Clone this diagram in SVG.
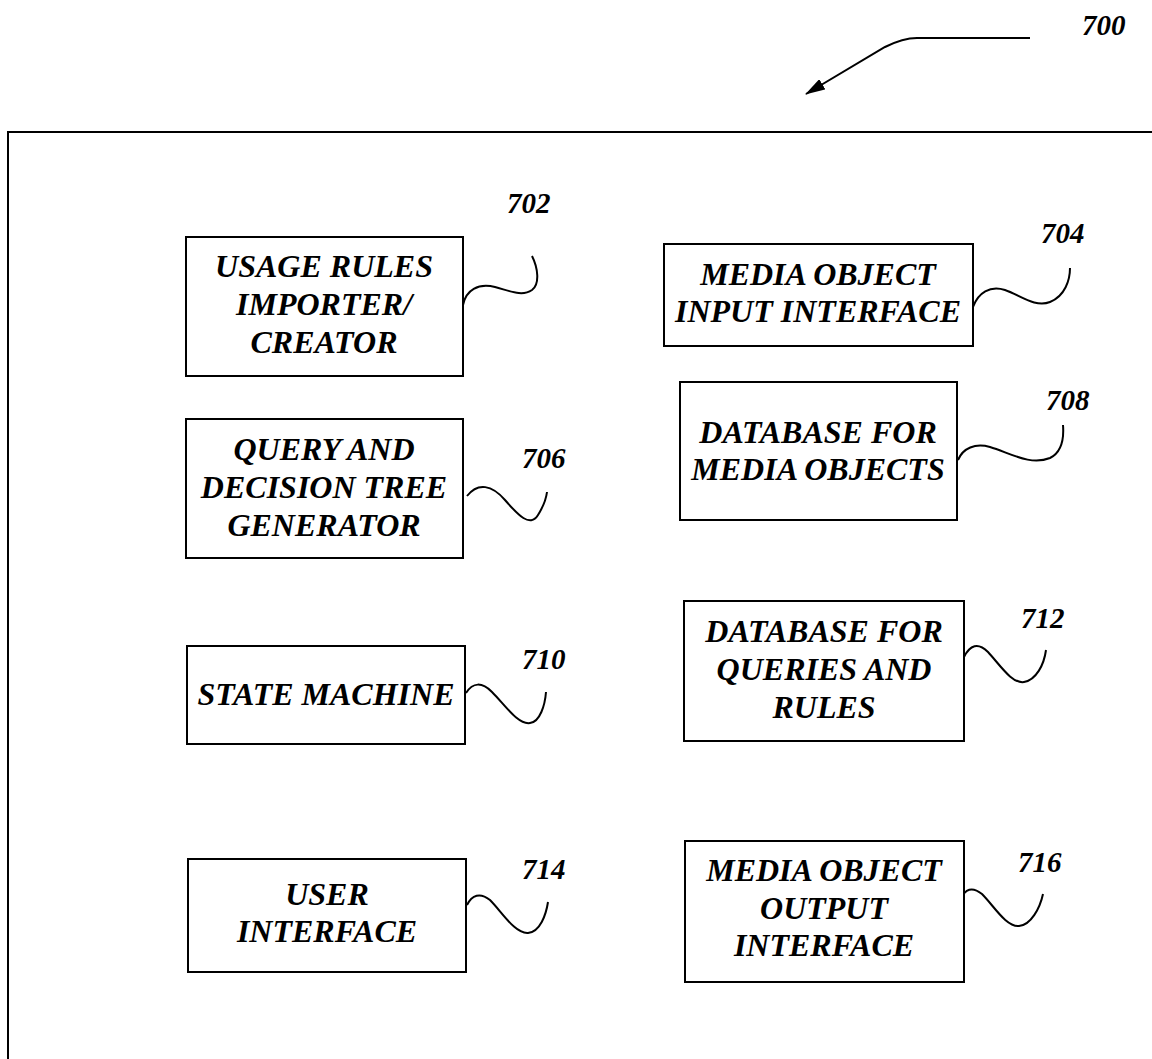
<svg xmlns="http://www.w3.org/2000/svg" width="1152" height="1059" viewBox="0 0 1152 1059">
<style>
.box{fill:#fff;stroke:#000;stroke-width:2}
.t{font-family:"Liberation Serif",serif;font-weight:bold;font-style:italic;font-size:32px;text-anchor:middle;fill:#000}
.lbl{font-family:"Liberation Serif",serif;font-weight:bold;font-style:italic;font-size:29px;fill:#000}
.lead{fill:none;stroke:#000;stroke-width:2}
.frame{fill:none;stroke:#000;stroke-width:2}
</style>
<defs>
<marker id="arr2" viewBox="0 0 20 12" refX="19" refY="6" markerWidth="20" markerHeight="12" orient="auto" markerUnits="userSpaceOnUse">
<path d="M0,0 L20,6 L0,12 z" fill="#000"/>
</marker>
</defs>
<path class="frame" d="M1152,132 L8,132 L8,1059"/>
<text class="lbl" x="1082" y="35">700</text>
<g id="connectors">
<path class="lead" d="M1030,38 L917,38 C905,38 895,42 885,47 L806,94" marker-end="url(#arr2)"/>
<path class="lead" d="M463,305 C466,290 478,283 495,287 C510,291 522,297 532,290 C540,284 538,268 532,256"/>
<path class="lead" d="M973,307 C978,293 990,285 1005,290 C1020,295 1035,308 1050,302 C1065,296 1070,280 1070,268"/>
<path class="lead" d="M467,496 C478,482 492,485 505,500 C518,515 530,528 538,515 C543,507 546,500 547,492"/>
<path class="lead" d="M958,460 C963,448 975,443 990,447 C1010,453 1030,466 1050,458 C1062,452 1064,438 1063,425"/>
<path class="lead" d="M466,693 C473,682 482,682 492,692 C505,705 518,725 530,723 C540,722 545,705 546,692"/>
<path class="lead" d="M964,657 C970,645 978,642 988,652 C1000,665 1012,684 1024,682 C1036,680 1044,665 1046,650"/>
<path class="lead" d="M467,905 C472,895 480,892 490,900 C502,912 515,934 528,933 C540,932 546,915 548,902"/>
<path class="lead" d="M961,899 C965,889 972,886 982,894 C994,906 1006,927 1019,926 C1031,925 1040,908 1043,894"/>
</g>
<g id="n702">
<rect class="box" x="186" y="237" width="277" height="139"/>
<text class="t" x="324" y="277">USAGE RULES</text>
<text class="t" x="324" y="315">IMPORTER/</text>
<text class="t" x="324" y="353">CREATOR</text>
<text class="lbl" x="507" y="213">702</text>
</g>
<g id="n704">
<rect class="box" x="664" y="244" width="309" height="102"/>
<text class="t" x="818" y="285">MEDIA OBJECT</text>
<text class="t" x="818" y="322">INPUT INTERFACE</text>
<text class="lbl" x="1041" y="243">704</text>
</g>
<g id="n706">
<rect class="box" x="186" y="419" width="277" height="139"/>
<text class="t" x="324" y="460">QUERY AND</text>
<text class="t" x="324" y="498">DECISION TREE</text>
<text class="t" x="324" y="536">GENERATOR</text>
<text class="lbl" x="522" y="468">706</text>
</g>
<g id="n708">
<rect class="box" x="680" y="382" width="277" height="138"/>
<text class="t" x="818" y="443">DATABASE FOR</text>
<text class="t" x="818" y="480">MEDIA OBJECTS</text>
<text class="lbl" x="1046" y="410">708</text>
</g>
<g id="n710">
<rect class="box" x="187" y="646" width="278" height="98"/>
<text class="t" x="326" y="705">STATE MACHINE</text>
<text class="lbl" x="522" y="669">710</text>
</g>
<g id="n712">
<rect class="box" x="684" y="601" width="280" height="140"/>
<text class="t" x="824" y="642">DATABASE FOR</text>
<text class="t" x="824" y="680">QUERIES AND</text>
<text class="t" x="824" y="718">RULES</text>
<text class="lbl" x="1021" y="628">712</text>
</g>
<g id="n714">
<rect class="box" x="188" y="859" width="278" height="113"/>
<text class="t" x="327" y="905">USER</text>
<text class="t" x="327" y="942">INTERFACE</text>
<text class="lbl" x="522" y="879">714</text>
</g>
<g id="n716">
<rect class="box" x="685" y="841" width="279" height="141"/>
<text class="t" x="824" y="881">MEDIA OBJECT</text>
<text class="t" x="824" y="919">OUTPUT</text>
<text class="t" x="824" y="956">INTERFACE</text>
<text class="lbl" x="1018" y="872">716</text>
</g>
</svg>
